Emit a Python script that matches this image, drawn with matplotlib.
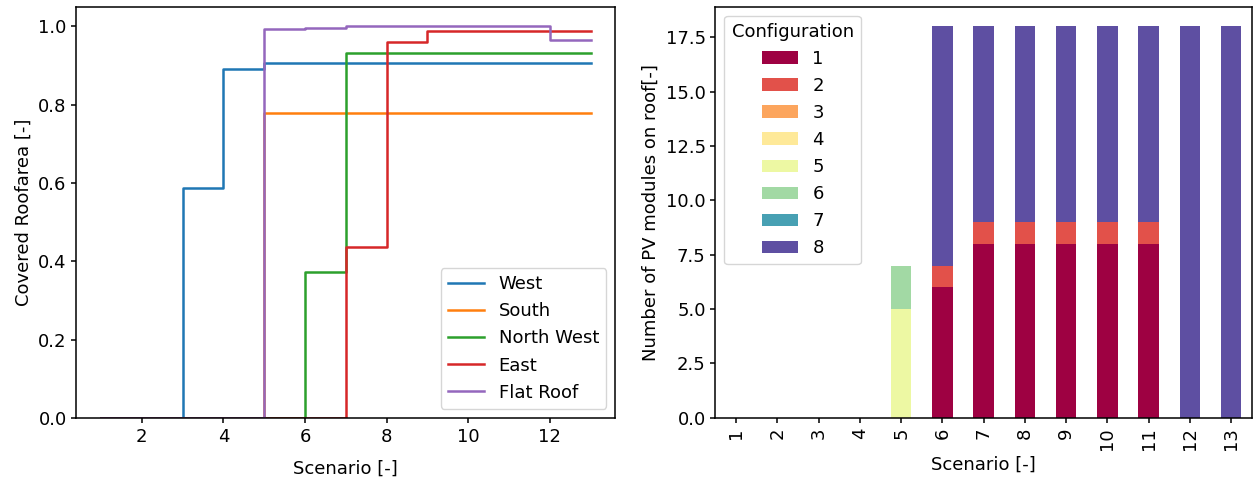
import numpy as np
import pandas as pd
import matplotlib
matplotlib.use("Agg")
import matplotlib.pyplot as plt

plt.rcParams['font.size'] = 13
plt.rcParams['axes.linewidth'] = 1.1
plt.rcParams['xtick.major.width'] = 1.1
plt.rcParams['ytick.major.width'] = 1.1

# Left plot: covered roof area per orientation (step plot)
scenarios = [1, 2, 3, 4, 5, 6, 7, 8, 9, 10, 11, 12, 13]
west = [0, 0, 0.587, 0.892, 0.906, 0.906, 0.906, 0.906, 0.906, 0.906, 0.906, 0.906, 0.906]
south = [0, 0, 0, 0, 0.779, 0.779, 0.779, 0.779, 0.779, 0.779, 0.779, 0.779, 0.779]
north_west = [0, 0, 0, 0, 0, 0.373, 0.933, 0.933, 0.933, 0.933, 0.933, 0.933, 0.933]
east = [0, 0, 0, 0, 0, 0, 0.436, 0.961, 0.989, 0.989, 0.989, 0.989, 0.989]
flat_roof = [0, 0, 0, 0, 0.993, 0.997, 1.0, 1.0, 1.0, 1.0, 1.0, 0.966, 0.966]

# Right plot: number of PV modules per configuration
config_labels = ['1', '2', '3', '4', '5', '6', '7', '8']
conf1 = [0, 0, 0, 0, 0, 6, 8, 8, 8, 8, 8, 0, 0]
conf2 = [0, 0, 0, 0, 0, 1, 1, 1, 1, 1, 1, 0, 0]
conf3 = [0, 0, 0, 0, 0, 0, 0, 0, 0, 0, 0, 0, 0]
conf4 = [0, 0, 0, 0, 0, 0, 0, 0, 0, 0, 0, 0, 0]
conf5 = [0, 0, 0, 0, 5, 0, 0, 0, 0, 0, 0, 0, 0]
conf6 = [0, 0, 0, 0, 2, 0, 0, 0, 0, 0, 0, 0, 0]
conf7 = [0, 0, 0, 0, 0, 0, 0, 0, 0, 0, 0, 0, 0]
conf8 = [0, 0, 0, 0, 0, 11, 9, 9, 9, 9, 9, 18, 18]

fig = plt.figure(figsize=(12.53, 4.83), dpi=100)
ax1 = fig.add_axes([0.061, 0.135, 0.430, 0.851])
ax2 = fig.add_axes([0.571, 0.135, 0.428, 0.851])

ax1.plot(scenarios, west, drawstyle='steps-post', lw=1.8, label='West')
ax1.plot(scenarios, south, drawstyle='steps-post', lw=1.8, label='South')
ax1.plot(scenarios, north_west, drawstyle='steps-post', lw=1.8, label='North West')
ax1.plot(scenarios, east, drawstyle='steps-post', lw=1.8, label='East')
ax1.plot(scenarios, flat_roof, drawstyle='steps-post', lw=1.8, label='Flat Roof')
ax1.set_ylim(bottom=0)
ax1.set_xlabel('Scenario [-]', labelpad=10)
ax1.set_ylabel('Covered Roofarea [-]')
ax1.legend(loc='lower right')

df = pd.DataFrame(dict(zip(config_labels,
                           [conf1, conf2, conf3, conf4, conf5, conf6, conf7, conf8])),
                  index=scenarios)
df.plot.bar(stacked=True, ax=ax2, colormap='Spectral')
ax2.set_xlabel('Scenario [-]')
ax2.set_ylabel('Number of PV modules on roof[-]')
ax2.legend(title='Configuration', loc='upper left')

fig.savefig('out.png', dpi=100)
